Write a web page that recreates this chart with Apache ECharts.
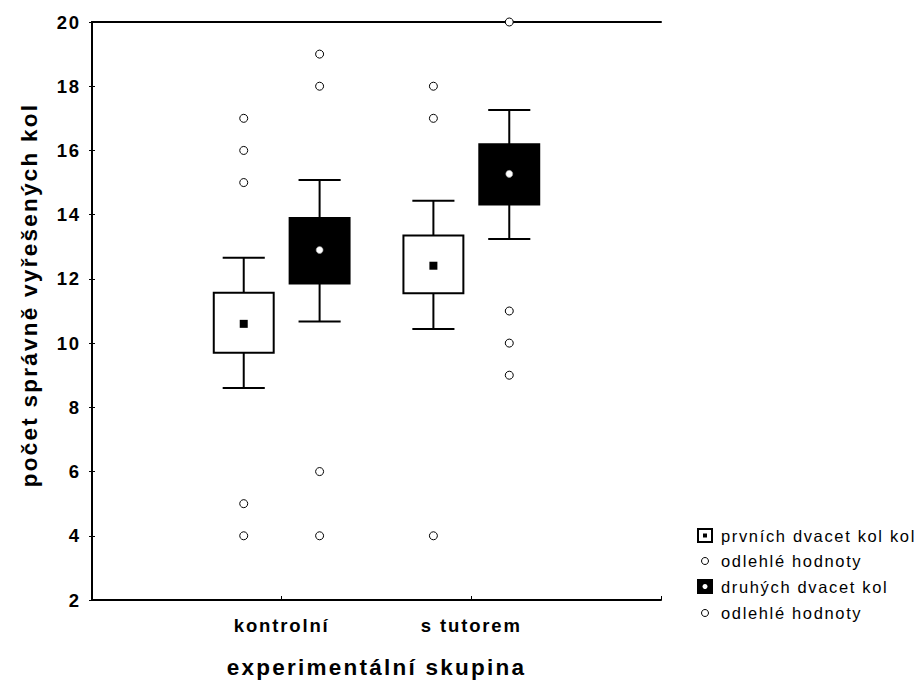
<!DOCTYPE html>
<html>
<head>
<meta charset="utf-8">
<script src="https://cdn.jsdelivr.net/npm/echarts@6/dist/echarts.min.js"></script>
<style>
  html, body { margin: 0; padding: 0; background: #fff; }
  #chart { width: 921px; height: 684px; }
  #chart text { letter-spacing: 0.1em; }
</style>
</head>
<body>
<div id="chart"></div>
<script>
// ---- data ----
const categories = ['kontrolní', 's tutorem'];
const seriesNames = ['prvních dvacet kol kol', 'druhých dvacet kol'];
const outlierName = 'odlehlé hodnoty';

// first twenty rounds (white boxes)
const firstLow  = [8.6, 10.44];
const firstQ1   = [9.70, 11.55];
const firstMean = [10.6, 12.41];
const firstQ3   = [11.57, 13.35];
const firstHigh = [12.66, 14.43];
const firstOutliers = [[17, 16, 15, 5, 4], [18, 17, 4]];

// second twenty rounds (black boxes)
const secondLow  = [10.67, 13.24];
const secondQ1   = [11.86, 14.32];
const secondMean = [12.90, 15.27];
const secondQ3   = [13.90, 16.19];
const secondHigh = [15.08, 17.26];
const secondOutliers = [[19, 18, 6, 4], [20, 11, 10, 9]];

const yTicks = { min: 2, max: 20, interval: 2 };

// ---- layout constants ----
const OFFSET = 0.2, BOX_HALF = 0.158, CAP_HALF = 0.111;
const FONT = "'Liberation Sans', Arial, sans-serif";

function boxData(low, q1, mean, q3, high, off) {
  return categories.map((c, i) => [i + 1 + off, low[i], q1[i], mean[i], q3[i], high[i]]);
}
function outlierData(lists, off) {
  const out = [];
  lists.forEach((arr, i) => arr.forEach(v => out.push([i + 1 + off, v])));
  return out;
}

function makeRender(dark) {
  return function (params, api) {
    const x = api.value(0);
    const low = api.value(1), q1 = api.value(2), mean = api.value(3), q3 = api.value(4), high = api.value(5);
    const tl = api.coord([x - BOX_HALF, q3]);
    const br = api.coord([x + BOX_HALF, q1]);
    const pHigh = api.coord([x, high]);
    const pLow = api.coord([x, low]);
    const capL = api.coord([x - CAP_HALF, high]);
    const capR = api.coord([x + CAP_HALF, high]);
    const capL2 = api.coord([x - CAP_HALF, low]);
    const capR2 = api.coord([x + CAP_HALF, low]);
    const pm = api.coord([x, mean]);
    const line = { stroke: '#000', lineWidth: 2 };
    const children = [
      { type: 'line', shape: { x1: pHigh[0], y1: pHigh[1], x2: pHigh[0], y2: tl[1] }, style: line },
      { type: 'line', shape: { x1: capL[0], y1: capL[1], x2: capR[0], y2: capR[1] }, style: line },
      { type: 'line', shape: { x1: pLow[0], y1: br[1], x2: pLow[0], y2: pLow[1] }, style: line },
      { type: 'line', shape: { x1: capL2[0], y1: capL2[1], x2: capR2[0], y2: capR2[1] }, style: line },
      { type: 'rect', shape: { x: tl[0], y: tl[1], width: br[0] - tl[0], height: br[1] - tl[1] },
        style: { fill: dark ? '#000' : '#fff', stroke: '#000', lineWidth: 2 } }
    ];
    if (dark) {
      children.push({ type: 'circle', shape: { cx: pm[0], cy: pm[1], r: 3.5 },
        style: { fill: '#fff', stroke: '#999', lineWidth: 0.6 } });
    } else {
      children.push({ type: 'rect', shape: { x: pm[0] - 4, y: pm[1] - 4, width: 8, height: 8 },
        style: { fill: '#000' } });
    }
    return { type: 'group', children };
  };
}

const chart = echarts.init(document.getElementById('chart'), null, { renderer: 'svg' });

const axisLine = { show: true, lineStyle: { color: '#000', width: 2 } };

const option = {
  backgroundColor: '#fff',
  animation: false,
  grid: { left: 92, top: 22, right: 260, bottom: 84 },
  xAxis: [{
    type: 'value', min: 0, max: 3, interval: 1,
    axisLine: axisLine,
    axisTick: { show: true, inside: true, length: 4, lineStyle: { color: '#000', width: 1 } },
    splitLine: { show: false },
    axisLabel: {
      margin: 16, color: '#000', fontSize: 18.5, fontWeight: 'bold', fontFamily: FONT,
      formatter: v => categories[v - 1] || ''
    },
    name: 'experimentální skupina', nameLocation: 'middle', nameGap: 67,
    nameTextStyle: { color: '#000', fontSize: 22.5, fontWeight: 'bold', fontFamily: FONT, verticalAlign: 'middle' }
  }, {
    type: 'value', min: 0, max: 3, interval: 1, position: 'top',
    axisLine: axisLine, axisTick: { show: false }, axisLabel: { show: false }, splitLine: { show: false }
  }],
  yAxis: [{
    type: 'value', min: yTicks.min, max: yTicks.max, interval: yTicks.interval,
    axisLine: axisLine,
    axisTick: { show: true, inside: true, length: 3, lineStyle: { color: '#000', width: 1 } },
    splitLine: { show: false },
    axisLabel: { margin: 11, color: '#000', fontSize: 18.5, fontWeight: 'bold', fontFamily: FONT }
  }, {
    type: 'value', min: yTicks.min, max: yTicks.max, interval: yTicks.interval, position: 'right',
    axisLine: axisLine,
    axisTick: { show: true, inside: true, length: 3, lineStyle: { color: '#000', width: 1 } },
    axisLabel: { show: false }, splitLine: { show: false }
  }],
  series: [
    {
      name: seriesNames[0], type: 'custom', renderItem: makeRender(false),
      encode: { x: 0, y: [1, 2, 3, 4, 5] },
      data: boxData(firstLow, firstQ1, firstMean, firstQ3, firstHigh, -OFFSET)
    },
    {
      name: seriesNames[1], type: 'custom', renderItem: makeRender(true),
      encode: { x: 0, y: [1, 2, 3, 4, 5] },
      data: boxData(secondLow, secondQ1, secondMean, secondQ3, secondHigh, OFFSET)
    },
    {
      name: outlierName, type: 'scatter', symbol: 'circle', symbolSize: 8,
      itemStyle: { color: '#fff', borderColor: '#000', borderWidth: 1, opacity: 1 },
      data: outlierData(firstOutliers, -OFFSET)
    },
    {
      name: outlierName + ' ', type: 'scatter', symbol: 'circle', symbolSize: 8,
      itemStyle: { color: '#fff', borderColor: '#000', borderWidth: 1, opacity: 1 },
      data: outlierData(secondOutliers, OFFSET)
    }
  ],
  graphic: [
    {
      type: 'text', x: 29, y: 295, rotation: Math.PI / 2,
      style: { text: 'počet správně vyřešených kol', fill: '#000', font: 'bold 22.5px ' + FONT,
        align: 'center', verticalAlign: 'middle' }
    },
    // legend
    { type: 'rect', shape: { x: 698, y: 529, width: 14, height: 13 }, style: { fill: '#fff', stroke: '#000', lineWidth: 2 } },
    { type: 'rect', shape: { x: 703, y: 533.5, width: 4, height: 4 }, style: { fill: '#000' } },
    { type: 'text', x: 721, y: 536, style: { text: seriesNames[0], fill: '#000', font: '16.5px ' + FONT, verticalAlign: 'middle' } },
    { type: 'circle', shape: { cx: 705, cy: 561, r: 3.5 }, style: { fill: '#fff', stroke: '#000', lineWidth: 1 } },
    { type: 'text', x: 721, y: 561, style: { text: outlierName, fill: '#000', font: '16.5px ' + FONT, verticalAlign: 'middle' } },
    { type: 'rect', shape: { x: 698, y: 580, width: 14, height: 13 }, style: { fill: '#000', stroke: '#000', lineWidth: 2 } },
    { type: 'circle', shape: { cx: 705, cy: 586.5, r: 2.5 }, style: { fill: '#fff' } },
    { type: 'text', x: 721, y: 587, style: { text: seriesNames[1], fill: '#000', font: '16.5px ' + FONT, verticalAlign: 'middle' } },
    { type: 'circle', shape: { cx: 705, cy: 613, r: 3.5 }, style: { fill: '#fff', stroke: '#000', lineWidth: 1 } },
    { type: 'text', x: 721, y: 613, style: { text: outlierName, fill: '#000', font: '16.5px ' + FONT, verticalAlign: 'middle' } }
  ]
};
chart.setOption(option);
</script>
</body>
</html>
